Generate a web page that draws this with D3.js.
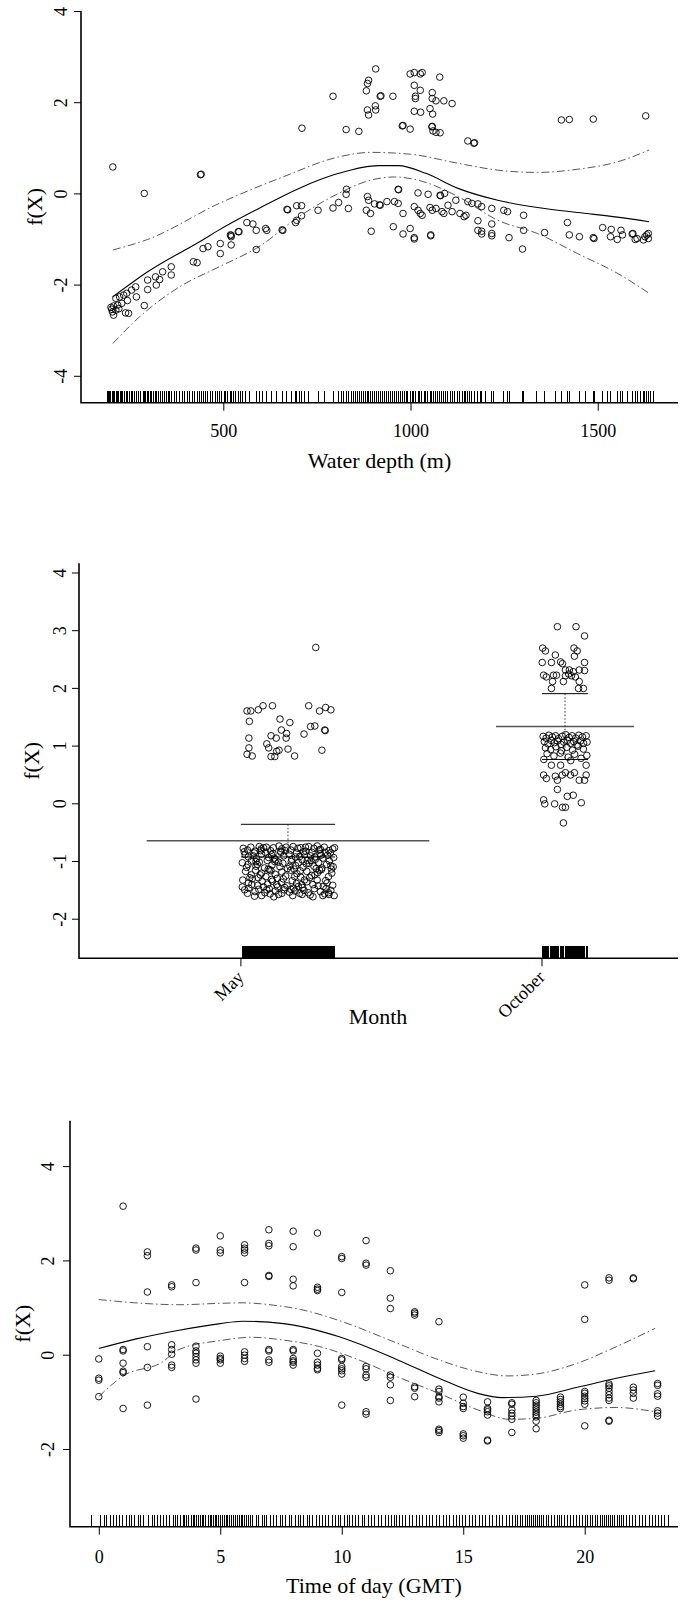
<!DOCTYPE html>
<html>
<head>
<meta charset="utf-8">
<script src="https://cdn.jsdelivr.net/npm/d3@7"></script>
<style>
  body { margin: 0; background: #fff; }
  svg { display: block; font-family: "Liberation Serif", "Times New Roman", Times, serif; }
  text { font-family: "Liberation Serif", "Times New Roman", Times, serif; fill: #000; }
</style>
</head>
<body>
<svg id="chart" width="684" height="1602"></svg>
<script>
// ---------- Panel 1: water depth smooth ----------
const depthTicks = [500, 1000, 1500];
const depthYTicks = [-4, -2, 0, 2, 4];
// fitted smooth and pointwise bands: [depth, f(X)]
const depthFit = [[205,-2.27],[298,-1.72],[447,-1.01],[489,-0.80],[595,-0.33],[702,0.11],[808,0.44],[914,0.61],[967,0.61],[1041,0.44],[1127,0.11],[1233,-0.15],[1339,-0.31],[1446,-0.42],[1552,-0.52],[1637,-0.62]];
const depthUpper = [[205,-1.24],[298,-1.01],[489,-0.22],[659,0.36],[808,0.80],[893,0.90],[999,0.86],[1127,0.66],[1233,0.51],[1339,0.46],[1446,0.53],[1552,0.69],[1637,0.95]];
const depthLower = [[205,-3.29],[276,-2.71],[383,-2.05],[489,-1.61],[595,-1.17],[702,-0.51],[808,0.00],[893,0.29],[957,0.36],[1020,0.29],[1127,-0.07],[1233,-0.59],[1339,-0.88],[1446,-1.32],[1552,-1.75],[1637,-2.19]];
// partial residuals: [depth, residual]
const depthResid = [
  [205,0.58],[289,0.00],[439,0.41],[441,0.42],[710,1.43],[793,2.13],[828,1.40],[862,1.36],[882,2.25],[885,2.41],
  [888,2.48],[907,2.73],[919,2.13],[921,2.14],[953,2.13],[885,1.83],[888,1.72],[906,1.92],[907,1.83],[978,1.48],
  [980,1.49],[999,1.41],[999,2.62],[1010,2.65],[1026,2.62],[1031,2.65],[1010,2.37],[1013,2.13],[1013,2.08],[1026,2.26],
  [1010,1.80],[1027,1.78],[1052,1.86],[1059,1.74],[1058,2.21],[1058,2.08],[1068,2.03],[1089,2.03],[1111,1.97],[1078,2.55],
  [1057,1.46],[1058,1.47],[1060,1.37],[1068,1.34],[1079,1.33],[1153,1.15],[1169,1.10],[1171,1.11],[1403,1.61],[1424,1.62],
  [1488,1.63],[1628,1.70],
  [670,-0.35],[672,-0.36],[696,-0.27],[709,-0.27],[709,-0.49],[693,-0.64],[696,-0.59],[753,-0.37],[793,-0.32],[808,-0.20],
  [828,-0.02],[829,0.09],[834,-0.33],[882,-0.37],[885,-0.07],[888,-0.15],[893,-0.44],[904,-0.23],[917,-0.25],[919,-0.26],
  [937,-0.18],[957,-0.18],[967,0.09],[968,0.08],[967,-0.22],[980,-0.44],[1010,-0.29],[1020,0.01],[1020,-0.37],[1026,-0.44],
  [1031,-0.48],[1047,-0.02],[1052,-0.31],[1058,-0.37],[1068,-0.33],[1079,-0.04],[1080,-0.05],[1084,-0.40],[1089,-0.44],[1091,0.00],
  [1100,-0.26],[1111,-0.40],[1121,-0.15],[1132,-0.44],[1143,-0.51],[1148,-0.48],[1153,-0.18],[1164,-0.22],[1180,-0.23],[1190,-0.29],
  [1217,-0.33],[1249,-0.37],[1259,-0.40],[1302,-0.48],[1180,-0.60],[1217,-0.67],[1180,-0.81],[1190,-0.83],[1217,-0.88],[1302,-0.81],
  [1263,-0.97],[1358,-0.86],[1419,-0.64],[1424,-0.91],[1451,-0.95],[1488,-0.97],[1513,-0.75],[1536,-0.79],[1562,-0.81],[1566,-0.91],
  [1594,-0.88],[1605,-0.99],[1626,-0.95],[1631,-0.91],[1635,-0.88],[895,-0.83],[954,-0.73],[980,-0.89],[999,-0.77],[1010,-0.97],
  [1054,-0.91],[1010,-1.00],[1054,-0.93],[1190,-0.89],[1217,-0.93],[1299,-1.22],[1490,-0.99],[1534,-0.95],[1552,-1.01],[1592,-0.89],
  [1600,-1.01],[1622,-1.02],[1635,-0.99],
  [659,-0.81],[616,-0.81],[588,-0.81],[540,-0.84],[521,-0.92],[521,-0.95],[588,-1.23],[492,-1.10],[492,-1.32],[521,-1.13],
  [446,-1.21],[459,-1.17],[420,-1.50],[430,-1.52],[361,-1.61],[361,-1.79],[338,-1.72],[319,-1.83],[330,-1.89],[321,-2.01],
  [298,-1.90],[298,-2.11],[266,-2.05],[268,-2.27],[255,-2.12],[242,-2.19],[234,-2.23],[223,-2.27],[213,-2.30],[244,-2.35],
  [229,-2.41],[218,-2.45],[207,-2.47],[202,-2.54],[204,-2.60],[213,-2.56],[239,-2.62],[247,-2.63],[289,-2.46],[207,-2.67],
  [200,-2.50],[221,-2.53],[563,-0.64],[579,-0.67],[613,-0.77],[657,-0.80],[542,-0.84],[519,-0.91]
];
// every sampled depth, shown in the rug
const depthRug = [
  190,193,196,200,203,207,210,214,218,221,225,229,232,236,241,245,249,254,258,263,268,273,278,
  286,289,293,298,301,305,309,313,318,322,326,331,
  338,342,349,353,357,361,369,376,383,392,397,405,411,419,424,430,436,441,446,452,459,466,471,478,484,489,495,502,507,512,518,521,527,533,540,546,552,559,
  570,588,596,604,616,629,642,659,670,682,693,696,703,709,716,
  728,753,770,793,808,815,822,828,834,
  842,847,852,858,863,868,874,879,884,889,894,899,904,909,915,920,925,930,935,941,946,951,957,962,967,972,978,983,988,993,999,1004,1009,1014,
  1020,1025,1030,1036,1041,1046,1052,1057,1062,1068,1073,1078,1084,1089,1094,1100,1106,1112,1118,1126,1132,1138,1143,1148,1153,1158,1164,
  1170,1180,1186,1190,1199,
  1217,1222,1249,1259,1263,1299,1302,1336,1358,1388,1403,1419,1424,1451,1466,1488,1490,1513,1527,1534,1552,1562,1566,1580,1592,1594,1600,1605,
  1614,1622,1626,1631,1635,1641,1648
];

// ---------- Panel 2: month factor ----------
const months = ["May", "October"];
const monthFit = [-0.648, 1.33];
const monthUpper = [-0.364, 1.90];
const monthLower = [-0.93, 0.76];
const monthYTicks = [-2, -1, 0, 1, 2, 3, 4];
// partial residuals: [jitter position within level (-1..1), residual]
const mayResid = [
  [-0.87,1.60],[-0.79,1.60],[-0.63,1.62],[-0.53,1.69],[-0.33,1.69],[0.44,1.69],[0.67,1.60],[0.80,1.66],[0.91,1.62],[-0.82,1.42],
  [-0.17,1.46],[0.04,1.40],[-0.14,1.27],[-0.36,1.17],[-0.25,1.13],[-0.03,1.21],[-0.04,1.13],[-0.83,1.13],[0.48,1.33],[0.57,1.34],
  [0.78,1.27],[0.79,1.26],[0.34,1.20],[-0.45,1.03],[-0.41,0.96],[-0.83,0.96],[-0.87,0.85],[-0.76,0.82],[-0.36,0.81],[-0.28,0.81],
  [-0.19,0.92],[-0.24,0.90],[0.00,0.94],[0.14,0.82],[0.72,0.92],[0.59,2.70],
  [-0.95,-0.78],[-0.86,-0.81],[-0.79,-0.76],[-0.70,-0.83],[-0.61,-0.75],[-0.57,-0.79],[-0.46,-0.76],[-0.37,-0.82],[-0.31,-0.77],[-0.19,-0.74],
  [-0.13,-0.79],[-0.04,-0.76],[0.06,-0.81],[0.11,-0.75],[0.21,-0.78],[0.27,-0.77],[0.38,-0.83],[0.44,-0.75],[0.55,-0.78],[0.62,-0.74],
  [0.69,-0.80],[0.77,-0.76],[0.87,-0.82],[0.95,-0.79],[-0.91,-0.89],[-0.84,-0.93],[-0.72,-0.86],[-0.67,-0.96],[-0.56,-0.88],[-0.48,-0.85],
  [-0.41,-0.94],[-0.32,-0.87],[-0.26,-0.98],[-0.15,-0.85],[-0.09,-0.91],[0.02,-0.88],[0.08,-0.97],[0.18,-0.86],[0.25,-0.92],[0.35,-0.89],
  [0.41,-0.99],[0.51,-0.85],[0.57,-0.93],[0.68,-0.87],[0.74,-0.95],[0.84,-0.90],[0.90,-0.86],[0.97,-0.94],[-0.97,-1.03],[-0.85,-1.06],
  [-0.78,-1.00],[-0.68,-1.09],[-0.61,-1.02],[-0.50,-1.12],[-0.44,-0.99],[-0.34,-1.07],[-0.28,-1.01],[-0.17,-1.10],[-0.11,-1.04],[-0.01,-1.13],
  [0.07,-1.01],[0.16,-1.08],[0.22,-1.03],[0.32,-1.11],[0.39,-1.05],[0.49,-0.99],[0.55,-1.09],[0.65,-1.03],[0.72,-1.12],[0.82,-1.06],
  [0.88,-1.00],[0.96,-1.10],[-0.90,-1.18],[-0.78,-1.24],[-0.69,-1.16],[-0.56,-1.21],[-0.47,-1.27],[-0.36,-1.17],[-0.27,-1.23],[-0.13,-1.19],
  [-0.05,-1.26],[0.06,-1.16],[0.19,-1.22],[0.27,-1.28],[0.40,-1.18],[0.50,-1.25],[0.63,-1.20],[0.71,-1.15],[0.86,-1.27],[0.93,-1.21],
  [-0.96,-1.33],[-0.84,-1.38],[-0.76,-1.31],[-0.64,-1.42],[-0.55,-1.35],[-0.43,-1.40],[-0.35,-1.32],[-0.22,-1.45],[-0.14,-1.37],[-0.02,-1.43],
  [0.09,-1.34],[0.18,-1.39],[0.31,-1.46],[0.40,-1.36],[0.53,-1.41],[0.62,-1.33],[0.75,-1.44],[0.83,-1.38],[0.95,-1.42],[-0.92,-1.50],
  [-0.83,-1.47],[-0.70,-1.53],[-0.62,-1.49],[-0.49,-1.55],[-0.40,-1.48],[-0.27,-1.52],[-0.20,-1.58],[-0.08,-1.50],[0.03,-1.54],[0.12,-1.47],
  [0.25,-1.56],[0.34,-1.51],[0.47,-1.59],[0.56,-1.48],[0.69,-1.53],[0.78,-1.57],[0.91,-1.51],[0.98,-1.60],[-0.71,-1.61],[-0.30,-1.62],
  [0.10,-1.60],[0.53,-1.62],[0.87,-1.58],[-0.58,-0.82],[-0.16,-0.83],[0.33,-0.84],[0.66,-0.81],[-0.42,-1.14],[0.13,-1.14],[0.60,-1.13],
  [-0.23,-1.30],[0.46,-1.29],[-0.63,-1.29],[-0.07,-1.46],[0.29,-1.41],[-0.52,-1.45],[0.81,-1.48],[-0.38,-1.57],[0.15,-1.52],[0.70,-0.90],
  [-0.93,-0.84],[-0.74,-0.91],[-0.52,-0.77],[-0.29,-0.95],[-0.06,-0.82],[0.16,-0.93],[0.37,-0.76],[0.58,-0.97],[0.79,-0.85],[0.99,-0.77],
  [-0.88,-1.11],[-0.65,-1.06],[-0.39,-1.15],[-0.20,-1.02],[0.04,-1.09],[0.26,-1.17],[0.45,-1.04],[0.67,-1.16],[0.91,-1.08],[-0.81,-1.29],
  [-0.59,-1.24],[-0.33,-1.35],[-0.10,-1.31],[0.14,-1.27],[0.35,-1.33],[0.57,-1.24],[0.80,-1.34],[-0.97,-1.45],[-0.77,-1.41],[-0.45,-1.50],
  [-0.24,-1.41],[0.06,-1.49],[0.22,-1.44],[0.43,-1.55],[0.64,-1.43],[0.86,-1.55],[-0.86,-1.56],[-0.56,-1.60],[-0.13,-1.56],[0.30,-1.58],
  [0.74,-1.60],[-0.35,-0.89],[0.48,-0.91],[-0.68,-1.01],[0.30,-0.98],[0.92,-1.14]
];
const octResid = [
  [-0.33,3.06],[0.48,3.06],[0.85,2.90],[-0.97,2.69],[-0.85,2.64],[-0.42,2.57],[0.39,2.69],[0.53,2.64],[0.41,2.55],[-0.99,2.44],
  [-0.59,2.44],[-0.19,2.45],[-0.11,2.42],[0.85,2.44],[0.02,2.31],[0.19,2.31],[0.36,2.28],[0.62,2.31],[0.85,2.30],[-0.93,2.22],
  [-0.81,2.19],[-0.50,2.22],[-0.37,2.22],[0.02,2.21],[0.16,2.24],[0.28,2.21],[0.45,2.19],[-0.54,2.11],[-0.07,2.11],[0.62,2.11],
  [-0.59,1.99],[0.59,1.99],[0.80,1.99],
  [-0.95,1.16],[-0.82,1.13],[-0.70,1.18],[-0.55,1.15],[-0.41,1.17],[-0.28,1.12],[-0.12,1.16],[0.03,1.19],[0.18,1.14],[0.31,1.17],
  [0.47,1.13],[0.60,1.18],[0.76,1.15],[0.92,1.17],[-0.90,1.07],[-0.74,1.03],[-0.60,1.09],[-0.46,1.05],[-0.33,1.08],[-0.18,1.02],
  [-0.05,1.06],[0.10,1.09],[0.24,1.04],[0.38,1.07],[0.52,1.01],[0.67,1.08],[0.81,1.04],[0.96,1.06],[-0.85,0.96],[-0.62,0.93],
  [-0.40,0.98],[-0.15,0.91],[0.08,0.97],[0.33,0.92],[0.57,0.99],[0.80,0.94],[-0.78,0.86],[-0.48,0.82],[-0.20,0.87],[0.14,0.80],
  [0.42,0.85],[0.70,0.78],[0.95,0.83],[-0.92,0.76],[0.25,0.74],
  [-0.93,0.49],[-0.81,0.43],[-0.59,0.66],[-0.19,0.66],[-0.42,0.47],[-0.33,0.40],[-0.33,0.24],[-0.12,0.49],[0.02,0.53],[0.24,0.49],
  [0.41,0.53],[0.62,0.40],[0.85,0.40],[0.92,0.49],[0.92,0.66],[-0.93,0.06],[-0.88,-0.01],[-0.45,-0.01],[-0.11,-0.07],[0.02,-0.07],
  [0.10,0.12],[0.36,0.14],[0.71,0.01],[-0.07,-0.34]
];

// ---------- Panel 3: time of day smooth ----------
const hourTicks = [0, 5, 10, 15, 20];
const hourYTicks = [-2, 0, 2, 4];
const hourFit = [[0,0.13],[1.5,0.33],[3.3,0.52],[5,0.66],[5.9,0.71],[7.6,0.66],[9.9,0.38],[12.3,-0.11],[14,-0.50],[15.6,-0.82],[16.6,-0.91],[18,-0.88],[19.7,-0.69],[21.3,-0.50],[22.9,-0.34]];
const hourUpper = [[0,1.17],[1.5,1.10],[3.3,1.06],[5,1.09],[5.9,1.10],[7.2,1.05],[8.3,0.96],[9.8,0.74],[12.3,0.24],[14,-0.11],[15.6,-0.36],[16.8,-0.45],[18,-0.41],[19.7,-0.18],[21.3,0.17],[22.9,0.56]];
const hourLower = [[0,-0.89],[1,-0.45],[2.6,-0.16],[3.3,0.11],[5,0.30],[6.3,0.37],[7.6,0.31],[9.1,0.17],[10.7,-0.11],[12.3,-0.47],[14,-0.82],[15.6,-1.17],[16.9,-1.37],[18,-1.35],[19.7,-1.17],[21.3,-1.12],[22.9,-1.21]];
// partial residuals grouped by hour
const hourResid = [
  [0,[-0.09,-0.50,-0.54,-0.89]],
  [1,[3.15,0.11,0.08,-0.18,-0.35,-0.38,-1.14]],
  [2,[2.18,2.10,1.33,0.17,-0.27,-1.07]],
  [3,[1.48,1.44,0.21,0.11,0.01,-0.22,-0.27]],
  [4,[2.26,2.22,1.53,0.18,0.08,0.03,-0.04,-0.11,-0.18,-0.94]],
  [5,[2.52,2.22,2.16,-0.03,-0.08,-0.11,-0.18]],
  [6,[2.33,2.26,2.22,2.16,1.53,0.06,-0.01,-0.08,-0.14]],
  [7,[2.65,2.36,2.31,1.68,1.66,0.11,0.08,-0.11,-0.16]],
  [8,[2.62,2.29,1.60,1.46,0.11,0.08,-0.08,-0.13,-0.16,-0.22]],
  [9,[2.58,1.43,1.39,1.36,0.03,-0.16,-0.22,-0.29,-0.32]],
  [10,[2.08,2.04,1.32,-0.08,-0.11,-0.25,-0.30,-0.34,-0.41,-1.07]],
  [11,[2.42,1.94,1.90,-0.25,-0.30,-0.43,-0.48,-1.21,-1.26]],
  [12,[1.78,1.20,0.98,-0.43,-0.48,-0.64,-0.97]],
  [13,[0.91,0.88,0.84,-0.68,-0.71,-0.89]],
  [14,[0.70,-0.73,-0.78,-0.89,-0.92,-1.00,-1.58,-1.61,-1.65]],
  [15,[-0.90,-1.03,-1.10,-1.14,-1.68,-1.72,-1.77]],
  [16,[-1.00,-1.14,-1.17,-1.21,-1.28,-1.81,-1.83]],
  [17,[-1.02,-1.05,-1.17,-1.24,-1.30,-1.37,-1.65]],
  [18,[-0.97,-1.02,-1.07,-1.12,-1.17,-1.22,-1.27,-1.32,-1.41,-1.57]],
  [19,[-0.90,-0.95,-1.00,-1.05,-1.10,-1.14]],
  [20,[1.48,0.75,-0.78,-0.82,-0.88,-0.93,-0.98,-1.05,-1.51]],
  [21,[1.63,1.58,-0.62,-0.66,-0.71,-0.78,-0.85,-0.92,-0.97,-1.39,-1.41]],
  [22,[1.63,1.61,-0.69,-0.75,-0.82,-0.92]],
  [23,[-0.61,-0.65,-0.83,-0.88,-1.19,-1.24,-1.30]]
];
// observation times (jittered) shown in the rug
const hourRug = [-0.28,0.05,0.22,0.31,0.48,0.6,0.74,0.86,0.97,1.12,1.25,1.33,1.45,1.62,1.7,1.84,2.03,2.2,2.28,2.41,2.55,2.66,2.79,2.93,3.06,3.14,3.22,3.35,3.47,3.53,3.62,3.7,3.81,3.88,3.95,4.04,4.11,4.18,4.26,4.33,4.41,4.5,4.58,4.63,4.72,4.8,4.86,4.93,5.02,5.1,5.17,5.25,5.31,5.4,5.48,5.55,5.63,5.71,5.78,5.86,5.92,6.0,6.07,6.15,6.24,6.33,6.5,6.58,6.72,6.81,6.9,7.05,7.2,7.31,7.46,7.55,7.7,7.84,7.93,8.08,8.21,8.3,8.43,8.58,8.66,8.8,8.95,9.1,9.19,9.34,9.45,9.6,9.73,9.86,9.95,10.12,10.24,10.3,10.45,10.58,10.7,10.85,10.94,11.08,11.22,11.35,11.5,11.63,11.8,11.92,12.05,12.18,12.26,12.37,12.5,12.64,12.78,12.92,13.06,13.2,13.33,13.48,13.6,13.75,13.9,14.04,14.2,14.33,14.45,14.6,14.71,14.85,14.96,15.1,15.25,15.38,15.52,15.66,15.8,15.93,16.08,16.2,16.36,16.5,16.63,16.78,16.9,17.03,17.14,17.25,17.36,17.44,17.55,17.63,17.74,17.82,17.9,17.97,18.06,18.13,18.22,18.3,18.41,18.5,18.62,18.75,18.86,18.95,19.06,19.18,19.3,19.42,19.55,19.66,19.78,19.9,20.02,20.12,20.22,20.33,20.45,20.54,20.63,20.72,20.8,20.9,20.98,21.06,21.15,21.24,21.33,21.42,21.5,21.6,21.72,21.85,21.96,22.1,22.24,22.38,22.5,22.65,22.78,22.9,23.03,23.15,23.28,23.43];

// ---------- drawing ----------
const svg = d3.select("#chart");
const FONT = '"Liberation Serif", "Times New Roman", Times, serif';
const TICK_FONT = 18, TITLE_FONT = 22;
const bandStyle = { stroke: "#444", width: 0.9, dash: "8,3,1.5,3" };
const intFmt = d => String(d);   // plain hyphen for negatives

function frame(g, x, y, box, yTicks, yLabelX, ylabX) {
  // L-shaped box and left axis with labels parallel to the axis
  const ax = g.append("g").attr("transform", `translate(${box.left},0)`)
    .call(d3.axisLeft(y).tickValues(yTicks).tickSize(7).tickSizeOuter(0).tickFormat(intFmt));
  ax.attr("font-family", FONT);
  ax.select(".domain").remove();
  ax.selectAll("line").attr("stroke", "#000").attr("stroke-width", 1);
  ax.selectAll("text")
    .attr("x", 0).attr("dy", "0.35em")
    .attr("transform", `translate(${yLabelX - box.left},0) rotate(-90)`)
    .attr("text-anchor", "middle")
    .attr("font-size", TICK_FONT);
  g.append("path")
    .attr("d", `M${box.left},${box.top}V${box.bottom}H${box.right}`)
    .attr("fill", "none").attr("stroke", "#000").attr("stroke-width", 1.6);
  g.append("text")
    .attr("transform", `translate(${ylabX},${(box.top + box.bottom) / 2}) rotate(-90)`)
    .attr("dy", "0.35em").attr("text-anchor", "middle")
    .attr("font-size", TITLE_FONT).text("f(X)");
}

function rug(g, values, x, box) {
  const len = 0.03 * (box.bottom - box.top);
  g.append("g").attr("shape-rendering", "crispEdges")
    .selectAll("line").data(values).join("line")
    .attr("x1", d => x(d)).attr("x2", d => x(d))
    .attr("y1", box.bottom).attr("y2", box.bottom - len)
    .attr("stroke", "#000").attr("stroke-width", 1);
}

function bottomAxis(g, x, box, ticks, title, labelOffset, titleOffset) {
  const ax = g.append("g").attr("transform", `translate(0,${box.bottom})`)
    .call(d3.axisBottom(x).tickValues(ticks).tickSize(8).tickSizeOuter(0).tickFormat(intFmt));
  ax.attr("font-family", FONT);
  ax.select(".domain").remove();
  ax.selectAll("line").attr("stroke", "#000").attr("stroke-width", 1);
  ax.selectAll("text").attr("y", labelOffset).attr("dy", 0).attr("font-size", TICK_FONT);
  g.append("text").attr("x", (box.left + box.right) / 2).attr("y", box.bottom + titleOffset)
    .attr("text-anchor", "middle").attr("font-size", TITLE_FONT).text(title);
}

function curve(g, pts, x, y, style) {
  const line = d3.line().x(d => x(d[0])).y(d => y(d[1])).curve(d3.curveMonotoneX);
  g.append("path").attr("d", line(pts)).attr("fill", "none")
    .attr("stroke", style.stroke).attr("stroke-width", style.width)
    .attr("stroke-dasharray", style.dash || null);
}

function circles(g, pts, x, y) {
  g.append("g").selectAll("circle").data(pts).join("circle")
    .attr("cx", d => x(d[0])).attr("cy", d => y(d[1])).attr("r", 3.3)
    .attr("fill", "none").attr("stroke", "#000").attr("stroke-width", 0.9);
}

// Panel 1
{
  const box = { left: 81, right: 678, top: 11, bottom: 402.7 };
  const g = svg.append("g");
  const x = d3.scaleLinear().domain([120, 1711.6]).range([box.left, 677]);
  const y = d3.scaleLinear().domain([-4.59, 4]).range([box.bottom, box.top]);
  rug(g, depthRug, x, box);
  curve(g, depthUpper, x, y, bandStyle);
  curve(g, depthLower, x, y, bandStyle);
  curve(g, depthFit, x, y, { stroke: "#000", width: 1.1 });
  circles(g, depthResid, x, y);
  frame(g, x, y, box, depthYTicks, 61, 34);
  bottomAxis(g, x, box, depthTicks, "Water depth (m)", 34.6, 65);
}

// Panel 2
{
  const box = { left: 79, right: 678, top: 563.3, bottom: 958.3 };
  const g = svg.append("g");
  const x = d3.scaleLinear().domain([0.2455, 2.4116]).range([box.left, 679]);
  const y = d3.scaleLinear().domain([-2.686, 4.159]).range([box.bottom, box.top]);
  const centre = [1, 2];          // level positions
  const half = [0.17, 0.083];     // jitter half-widths, proportional to level counts
  const resid = [mayResid, octResid];
  const pts = [];
  resid.forEach((arr, i) => arr.forEach(d => pts.push([centre[i] + d[0] * half[i], d[1]])));
  rug(g, pts.map(d => d[0]), x, box);
  months.forEach((m, i) => {
    const c = centre[i], h = half[i];
    g.append("line").attr("x1", x(c - 3 * h)).attr("x2", x(c + 3 * h))
      .attr("y1", y(monthFit[i])).attr("y2", y(monthFit[i]))
      .attr("stroke", "#555").attr("stroke-width", 1.4);
    [monthUpper[i], monthLower[i]].forEach(v => {
      g.append("line").attr("x1", x(c - h)).attr("x2", x(c + h))
        .attr("y1", y(v)).attr("y2", y(v)).attr("stroke", "#000").attr("stroke-width", 1);
    });
    g.append("line").attr("x1", x(c)).attr("x2", x(c))
      .attr("y1", y(monthUpper[i])).attr("y2", y(monthLower[i]))
      .attr("stroke", "#000").attr("stroke-width", 0.8).attr("stroke-dasharray", "1.5,2");
    // axis tick at the left edge of each level's jitter range
    const tx = x(c - h);
    g.append("line").attr("x1", tx).attr("x2", tx).attr("y1", box.bottom).attr("y2", box.bottom + 8)
      .attr("stroke", "#000").attr("stroke-width", 1);
    g.append("text").attr("transform", `translate(${tx + 4},${box.bottom + 20}) rotate(-45)`)
      .attr("text-anchor", "end").attr("font-size", TICK_FONT).text(m);
  });
  circles(g, pts, x, y);
  frame(g, x, y, box, monthYTicks, 60, 31);
  g.append("text").attr("x", 378).attr("y", box.bottom + 66)
    .attr("text-anchor", "middle").attr("font-size", TITLE_FONT).text("Month");
}

// Panel 3
{
  const box = { left: 70, right: 678, top: 1120.7, bottom: 1526.7 };
  const g = svg.append("g");
  const x = d3.scaleLinear().domain([-1.185, 23.88]).range([box.left, 679]);
  const y = d3.scaleLinear().domain([-3.648, 4.963]).range([box.bottom, box.top]);
  rug(g, hourRug, x, box);
  curve(g, hourUpper, x, y, bandStyle);
  curve(g, hourLower, x, y, bandStyle);
  curve(g, hourFit, x, y, { stroke: "#000", width: 1.1 });
  const pts = [];
  hourResid.forEach(([h, vals]) => vals.forEach(v => pts.push([h, v])));
  circles(g, pts, x, y);
  frame(g, x, y, box, hourYTicks, 48, 22);
  bottomAxis(g, x, box, hourTicks, "Time of day (GMT)", 36.5, 66);
}
</script>
</body>
</html>
